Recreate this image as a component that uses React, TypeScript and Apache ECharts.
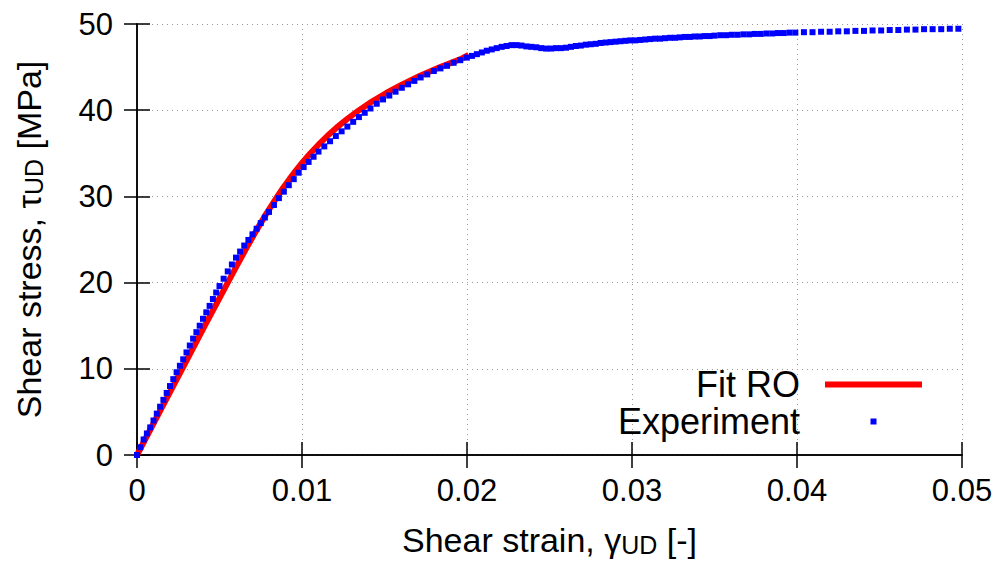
import React, { useEffect, useRef } from "react";
import * as echarts from "echarts";

// ---- data ----
const xTicks = [0, 0.01, 0.02, 0.03, 0.04, 0.05];
const yTicks = [0, 10, 20, 30, 40, 50];

const seriesNames = ["Fit RO", "Experiment"];

// Ramberg-Osgood fit (red line)
const fitStrain = [
  0, 0.00137, 0.00274, 0.00411, 0.0055, 0.00606, 0.00663, 0.00722, 0.00784,
  0.00851, 0.00886, 0.00924, 0.00963, 0.01005, 0.01051, 0.011, 0.01153,
  0.01211, 0.01275, 0.01346, 0.01424, 0.01511, 0.01608, 0.01716, 0.01838,
  0.0197, 0.0201,
];
const fitStress = [
  0, 5, 10, 15, 20, 22, 24, 26, 28, 30, 31, 32, 33, 34, 35, 36, 37, 38, 39, 40,
  41, 42, 43, 44, 45, 46, 46.4,
];

// Experimental points (blue squares)
const expStrain = [
  0, 0.0002, 0.0004, 0.0006, 0.0008, 0.001, 0.0012, 0.0014, 0.0016, 0.0018,
  0.002, 0.0022, 0.0024, 0.0026, 0.0028, 0.003, 0.0032, 0.0034, 0.0036, 0.0038,
  0.004, 0.0042, 0.0044, 0.0046, 0.0048, 0.005,
  0.00525, 0.0055, 0.00575, 0.006, 0.00625, 0.0065, 0.00675, 0.007, 0.00725,
  0.0075, 0.00775, 0.008,
  0.0083, 0.0086, 0.0089, 0.0092, 0.0095, 0.0098, 0.0101, 0.0104, 0.0107, 0.011,
  0.01135, 0.0117, 0.01205, 0.0124, 0.01275, 0.0131, 0.01345, 0.0138, 0.01415,
  0.01453, 0.01491, 0.01529, 0.01567, 0.01605, 0.01643, 0.01681, 0.01719,
  0.01759, 0.01799, 0.01839, 0.01879, 0.01919, 0.01959, 0.01999,
  0.0203, 0.0206, 0.0209, 0.0212, 0.0215, 0.0218, 0.0221, 0.0224, 0.0227, 0.023,
  0.0233, 0.0236, 0.0239, 0.0242, 0.0245, 0.0248, 0.0251, 0.0254, 0.0257, 0.026,
  0.0263, 0.0266, 0.0269, 0.0272, 0.0275, 0.0278, 0.0281, 0.0284, 0.0287, 0.029,
  0.0293, 0.0296, 0.0299, 0.0302, 0.0305, 0.0308, 0.0311, 0.0314, 0.0317, 0.032,
  0.0323, 0.0326, 0.0329, 0.0332, 0.0335, 0.0338, 0.0341, 0.0344, 0.0347, 0.035,
  0.03535, 0.0357, 0.03605, 0.0364, 0.03675, 0.0371, 0.03745, 0.0378, 0.03815,
  0.0385, 0.03885, 0.0392, 0.03955, 0.0399,
  0.04042, 0.04094, 0.04146, 0.04198, 0.0425, 0.04302, 0.04354, 0.04406,
  0.04458, 0.0451, 0.04562, 0.04614, 0.04666, 0.04718, 0.0477, 0.04822,
  0.04874, 0.04926, 0.04978, 0.0503,
];
const expStress = [
  0, 0.9, 1.8, 2.5, 3.2, 4.0, 4.8, 5.6, 6.4, 7.2,
  8.0, 8.8, 9.6, 10.35, 11.1, 11.9, 12.7, 13.5, 14.25, 15.0,
  15.8, 16.55, 17.3, 18.1, 18.85, 19.6,
  20.45, 21.3, 22.1, 22.9, 23.6, 24.3, 24.95, 25.6, 26.25,
  26.9, 27.55, 28.2,
  29.0, 29.8, 30.55, 31.3, 32.0, 32.75, 33.4, 34.0, 34.6, 35.2,
  35.8, 36.4, 37.0, 37.55, 38.1, 38.65, 39.2, 39.7, 40.2,
  40.75, 41.25, 41.7, 42.15, 42.6, 43.0, 43.4, 43.8,
  44.15, 44.55, 44.85, 45.15, 45.5, 45.8, 46.1,
  46.3, 46.5, 46.7, 46.9, 47.05, 47.2, 47.35, 47.45, 47.55, 47.55,
  47.5, 47.4, 47.35, 47.3, 47.2, 47.15, 47.15, 47.2, 47.2, 47.25,
  47.35, 47.45, 47.5, 47.6, 47.65, 47.7, 47.8, 47.85, 47.9, 47.95,
  48.0, 48.05, 48.1, 48.1, 48.15, 48.2, 48.25, 48.3, 48.3, 48.35,
  48.4, 48.4, 48.45, 48.5, 48.5, 48.55, 48.55, 48.6, 48.6, 48.65,
  48.7, 48.7, 48.75, 48.75, 48.8, 48.8, 48.85, 48.85, 48.9,
  48.9, 48.95, 48.95, 49.0, 49.0,
  49.05, 49.05, 49.1, 49.1, 49.15, 49.15, 49.2, 49.2,
  49.25, 49.25, 49.3, 49.3, 49.35, 49.35, 49.4, 49.4,
  49.4, 49.45, 49.45, 49.5,
];

const FONT = "'Liberation Sans', Arial, Helvetica, sans-serif";

export default function App() {
  const ref = useRef<HTMLDivElement>(null);

  useEffect(() => {
    if (!ref.current) return;
    const chart = echarts.init(ref.current, undefined, { renderer: "svg" });

    const fitData = fitStrain.map((x, i) => [x, fitStress[i]]);
    const expData = expStrain.map((x, i) => [x, expStress[i]]);

    const fmt = (v: number) => String(+v.toFixed(3));
    const axisLine = { show: true, lineStyle: { color: "#000", width: 1.5 } };
    const axisTick = {
      show: true,
      inside: true,
      length: 13,
      lineStyle: { color: "#000", width: 1.5 },
    };
    const nameRich = {
      n: { fontSize: 34, fontFamily: FONT, color: "#000", lineHeight: 40, verticalAlign: "bottom" },
      s: { fontSize: 25, fontFamily: FONT, color: "#000", lineHeight: 27, verticalAlign: "bottom" },
    };

    chart.setOption({
      animation: false,
      backgroundColor: "#fff",
      grid: { left: 137, right: 45, top: 24, bottom: 112, containLabel: false },
      xAxis: [
        {
          type: "value",
          position: "bottom",
          min: xTicks[0],
          max: xTicks[xTicks.length - 1],
          interval: xTicks[1] - xTicks[0],
          axisLine,
          axisTick,
          axisLabel: {
            fontSize: 31,
            fontFamily: FONT,
            color: "#000",
            margin: 20,
            showMinLabel: true,
            showMaxLabel: true,
            formatter: fmt,
          },
          splitLine: {
            show: true,
            lineStyle: { color: "#999", width: 1, type: [1, 4] },
          },
          name: "{n|Shear strain, γ}{s|UD}{n| [-]}",
          nameLocation: "middle",
          nameGap: 62,
          nameTextStyle: { rich: nameRich },
        },
        {
          type: "value",
          position: "top",
          min: xTicks[0],
          max: xTicks[xTicks.length - 1],
          interval: xTicks[1] - xTicks[0],
          axisLine,
          axisTick,
          axisLabel: { show: false },
          splitLine: { show: false },
        },
      ],
      yAxis: [
        {
          type: "value",
          position: "left",
          min: yTicks[0],
          max: yTicks[yTicks.length - 1],
          interval: yTicks[1] - yTicks[0],
          axisLine,
          axisTick,
          axisLabel: {
            fontSize: 31,
            fontFamily: FONT,
            color: "#000",
            margin: 24,
            showMinLabel: true,
            showMaxLabel: true,
          },
          splitLine: {
            show: true,
            lineStyle: { color: "#999", width: 1, type: [1, 4] },
          },
          name: "{n|Shear stress, τ}{s|UD}{n| [MPa]}",
          nameLocation: "middle",
          nameGap: 91,
          nameTextStyle: { rich: nameRich },
        },
        {
          type: "value",
          position: "right",
          min: yTicks[0],
          max: yTicks[yTicks.length - 1],
          interval: yTicks[1] - yTicks[0],
          axisLine,
          axisTick,
          axisLabel: { show: false },
          splitLine: { show: false },
        },
      ],
      legend: {
        orient: "vertical",
        align: "right",
        right: 85,
        top: 366,
        padding: 0,
        itemGap: 0,
        itemWidth: 97,
        itemHeight: 6,
        textStyle: {
          fontSize: 36,
          fontFamily: FONT,
          color: "#000",
          lineHeight: 37,
          padding: [0, 20, 0, 0],
        },
        data: [
          { name: seriesNames[0], icon: "rect" },
          { name: seriesNames[1], icon: "path://M0,0M97,6M45.5,0h6v6h-6z" },
        ],
      },
      series: [
        {
          name: seriesNames[0],
          type: "line",
          xAxisIndex: 0,
          yAxisIndex: 0,
          data: fitData,
          showSymbol: false,
          symbol: "none",
          lineStyle: { color: "#ff0000", width: 6 },
          itemStyle: { color: "#ff0000" },
          z: 2,
        },
        {
          name: seriesNames[1],
          type: "scatter",
          xAxisIndex: 0,
          yAxisIndex: 0,
          data: expData,
          symbol: "rect",
          symbolSize: 6,
          itemStyle: { color: "#0000ff", opacity: 1 },
          z: 3,
        },
      ],
    });

    return () => chart.dispose();
  }, []);

  return (
    <div
      ref={ref}
      style={{ position: "absolute", left: 0, top: 0, width: 1007, height: 567 }}
    />
  );
}
